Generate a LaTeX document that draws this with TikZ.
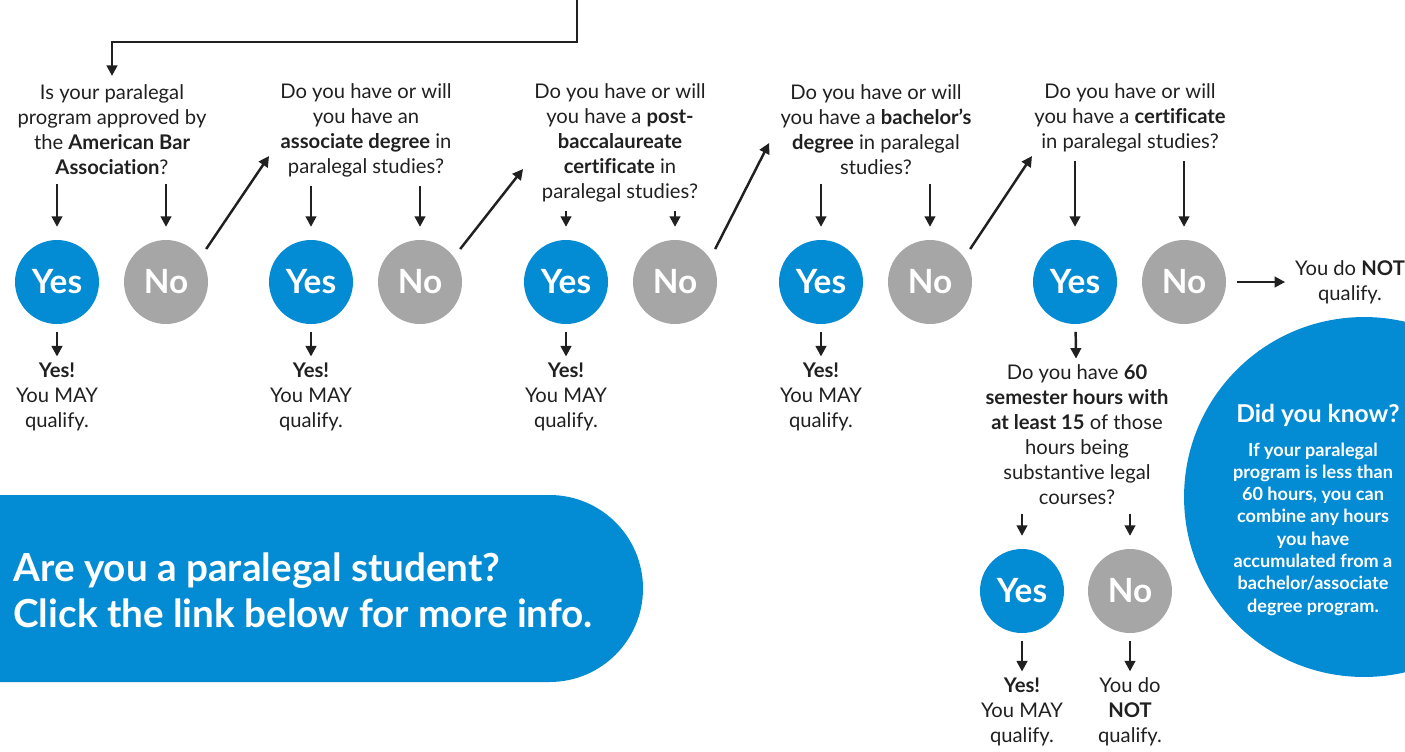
\documentclass[tikz,border=0pt]{standalone}
\usepackage{fontspec}
\setmainfont[Ligatures=NoCommon]{Lato}
\usetikzlibrary{arrows.meta,positioning}
\definecolor{ablue}{RGB}{3,139,211}
\definecolor{agray}{RGB}{166,166,166}
\definecolor{ink}{RGB}{32,32,32}

\begin{document}
\begin{tikzpicture}[x=0.02cm,y=-0.02cm,
		yesc/.style={circle,fill=ablue,minimum size=1.68cm,inner sep=0pt,outer sep=0pt,text=white,font=\fontsize{19}{19}\selectfont\bfseries},
		noc/.style={yesc,fill=agray},
		ques/.style={align=center,inner sep=0pt,text=ink,font=\fontsize{11.5}{14.2}\selectfont},
		arr/.style={-{Triangle[length=6pt,width=6pt]},line width=1.4pt,draw=ink},
		down/.style={arr,shorten <=5pt,shorten >=7.5pt},
		res/.style={arr,shorten <=4.5pt,shorten >=3.5pt}]
		\useasboundingbox (0,0) rectangle (1405,751);

		\begin{scope}
			\clip (0,0) rectangle (1405,751);
			\fill[ablue] (1364,497) circle[radius=3.6cm];
			\fill[ablue,rounded corners=1.87cm] (-120,495) rectangle (643,682);
		\end{scope}

		\node[ques] (q1) at (112,130) {Is your paralegal\\program approved by\\the \textbf{American Bar}\\\textbf{Association}?};
		\node[ques] (q2) at (366,130) {Do you have or will\\you have an\\\textbf{associate degree} in\\paralegal studies?};
		\node[ques] (q3) at (620,143) {Do you have or will\\you have a \textbf{post-}\\\textbf{baccalaureate}\\\textbf{certificate} in\\paralegal studies?};
		\node[ques] (q4) at (876,130) {Do you have or will\\you have a \textbf{bachelor’s}\\\textbf{degree} in paralegal\\studies?};
		\node[ques] (q5) at (1130,118) {Do you have or will\\you have a \textbf{certificate}\\in paralegal studies?};

		\node[yesc] (y1) at (57,282) {Yes};
		\node[noc] (n1) at (166,282) {No};
		\node[yesc] (y2) at (311,282) {Yes};
		\node[noc] (n2) at (420,282) {No};
		\node[yesc] (y3) at (566,282) {Yes};
		\node[noc] (n3) at (675,282) {No};
		\node[yesc] (y4) at (821,282) {Yes};
		\node[noc] (n4) at (930,282) {No};
		\node[yesc] (y5) at (1075,282) {Yes};
		\node[noc] (n5) at (1184,282) {No};

		\node[ques] (r1) at (57,397) {\textbf{Yes!}\\You MAY\\qualify.};
		\node[ques] (r2) at (311,397) {\textbf{Yes!}\\You MAY\\qualify.};
		\node[ques] (r3) at (566,397) {\textbf{Yes!}\\You MAY\\qualify.};
		\node[ques] (r4) at (821,397) {\textbf{Yes!}\\You MAY\\qualify.};
		\node[ques] (notq) at (1350,282) {You do \textbf{NOT}\\qualify.};

		\node[ques] (q6) at (1077,435) {Do you have \textbf{60}\\\textbf{semester hours with}\\\textbf{at least 15} of those\\hours being\\substantive legal\\courses?};
		\node[yesc] (y6) at (1022,591) {Yes};
		\node[noc] (n6) at (1130,591) {No};
		\node[ques] (r6y) at (1022,712) {\textbf{Yes!}\\You MAY\\qualify.};
		\node[ques] (r6n) at (1130,712) {You do\\\textbf{NOT}\\qualify.};

		\node[align=center,text=white,inner sep=0pt,font=\fontsize{14}{16}\selectfont\bfseries] (dyk) at (1318,415) {Did you know?};
		\node[align=center,text=white,inner sep=0pt,font=\fontsize{10.3}{12.7}\selectfont\bfseries] (info) at (1313,529) {If your paralegal\\program is less than\\60 hours, you can\\combine any hours\\you have\\accumulated from a\\bachelor/associate\\degree program.};
		\node[align=left,anchor=west,text=white,inner sep=0pt,font=\fontsize{22}{26}\selectfont\bfseries] (banner) at (13,590) {Are you a paralegal student?\\Click the link below for more info.};

		\coordinate (start) at (577,0);
		\draw[arr,shorten >=5pt] (start) -- ++(0,42) -| (q1.north);

		\foreach \i in {1,...,5}{
			\draw[down] (q\i.south -| y\i) -- (y\i);
			\draw[down] (q\i.south -| n\i) -- (n\i);
		}
		\foreach \i in {1,...,4}{
			\draw[res] (y\i) -- (r\i);
		}
		\draw[arr] ([shift={(8,-6)}]n1.40) -- ([shift={(-11,26)}]q2.west);
		\draw[arr] ([shift={(8,-6)}]n2.40) -- ([shift={(-11,26)}]q3.west);
		\draw[arr] ([shift={(8,-6)}]n3.40) -- ([shift={(-11,13)}]q4.west);
		\draw[arr] ([shift={(8,-6)}]n4.40) -- ([shift={(-2,38)}]q5.west);
		\draw[arr,shorten <=6.5pt,shorten >=5.5pt] (n5) -- (notq);

		\draw[res] (y5) -- (q6);
		\draw[down] (q6.south -| y6) -- (y6);
		\draw[down] (q6.south -| n6) -- (n6);
		\draw[res] (y6) -- (r6y);
		\draw[res] (n6) -- (r6n);
	\end{tikzpicture}
\end{document}
